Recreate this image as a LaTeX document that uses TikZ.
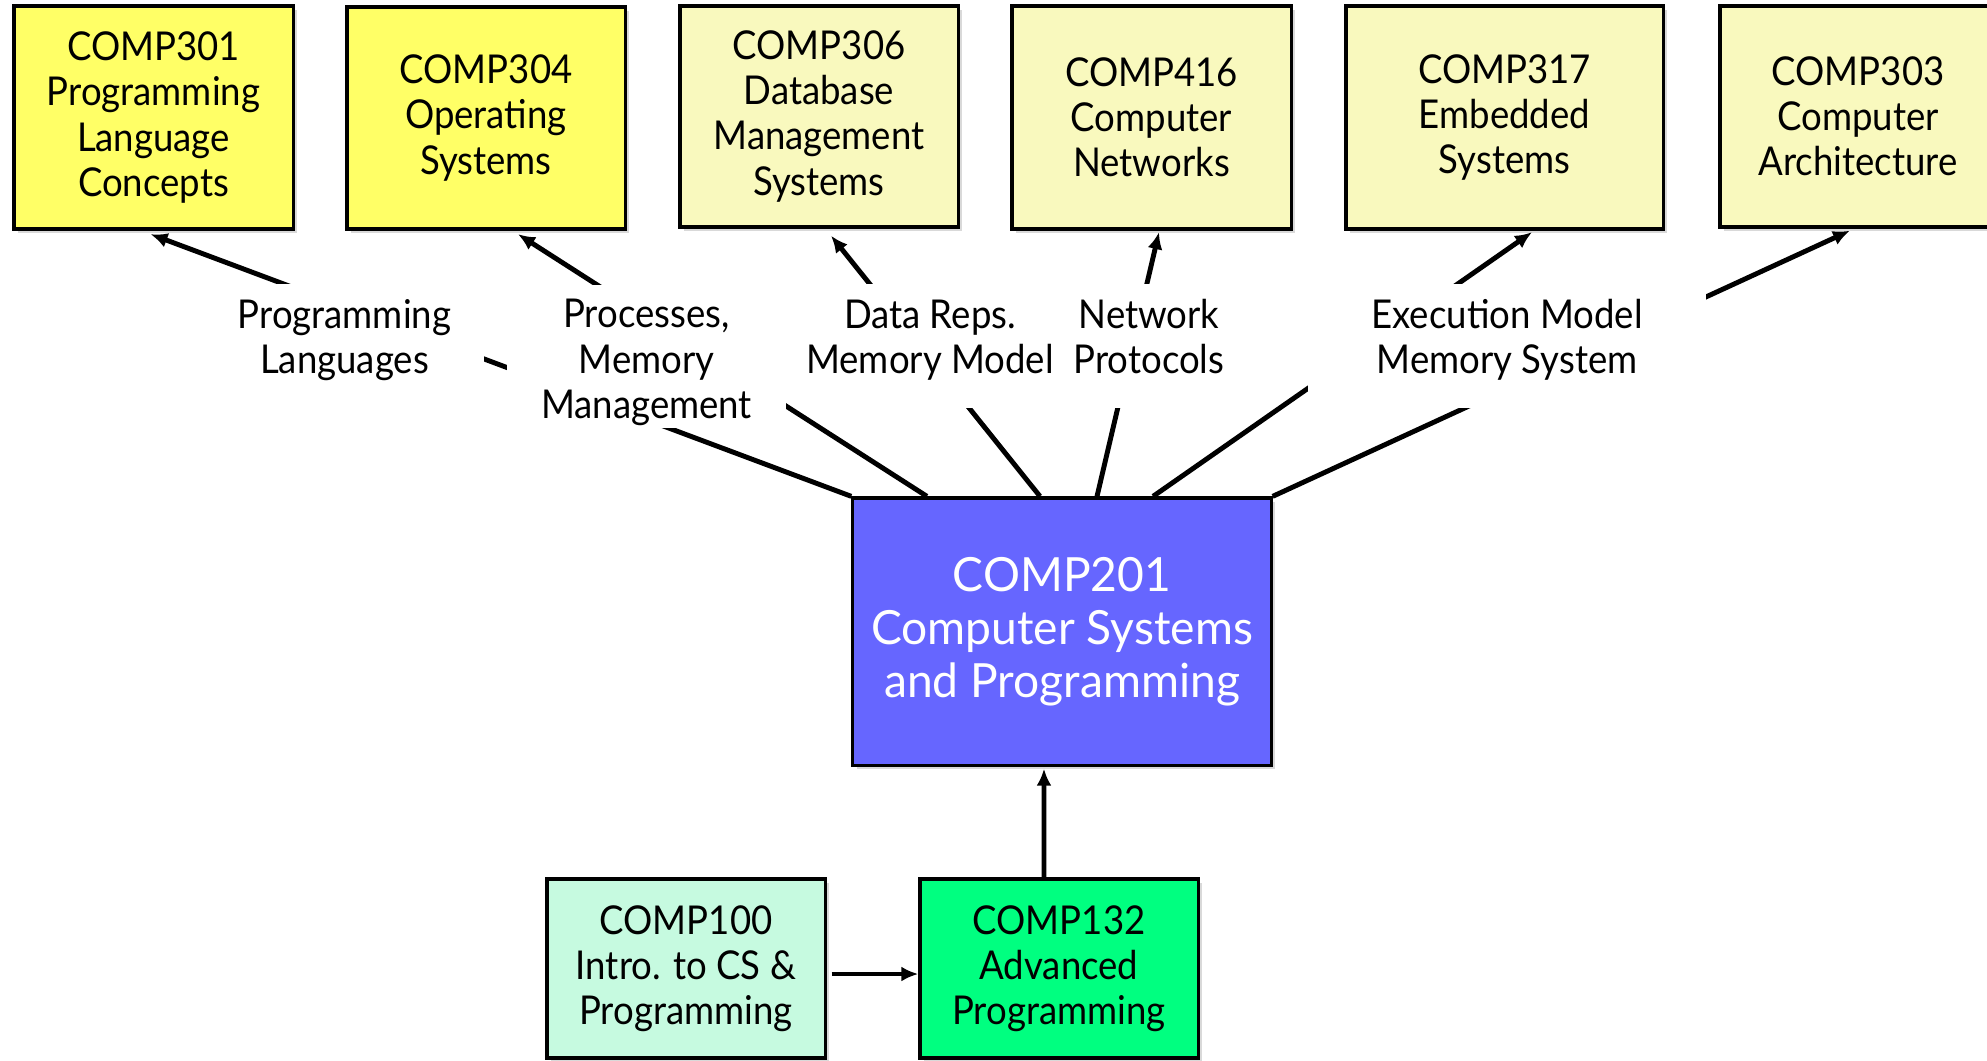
\documentclass[tikz,border=0pt]{standalone}
\usepackage{fontspec}
\setmainfont{Lato}[FakeStretch=0.92]
\newfontfamily\bigfont{Lato}[FakeStretch=0.98]
\usetikzlibrary{arrows.meta,shadows}
\definecolor{brightyellow}{HTML}{FFFF66}
\definecolor{paleyellow}{HTML}{F9F9BE}
\definecolor{cblue}{HTML}{6666FF}
\definecolor{mint}{HTML}{C6FAE0}
\definecolor{cgreen}{HTML}{00FF80}
\begin{document}
\begin{tikzpicture}[x=0.01cm,y=-0.01cm,
  course/.style={draw=black, line width=0.9pt, inner sep=0pt, align=center,
    font=\fontsize{11.3}{12.8}\selectfont,
    drop shadow={shadow xshift=0.04cm, shadow yshift=-0.04cm, opacity=0.15, fill=black}},
  link/.style={line width=1.4pt, -{Latex[length=0.17cm,width=0.15cm]}},
  topic/.style={fill=white, inner sep=0pt, font=\fontsize{11.3}{12.8}\selectfont}
]
\useasboundingbox (0,0) rectangle (1987,1060);

% top courses
\node[course, fill=brightyellow, minimum width=2.79cm, minimum height=2.23cm] (c301) at (153.5,117.5) {COMP301\\Programming\\Language\\Concepts};
\node[course, fill=brightyellow, minimum width=2.78cm, minimum height=2.22cm] (c304) at (486,118) {COMP304\\Operating\\Systems};
\node[course, fill=paleyellow, minimum width=2.78cm, minimum height=2.21cm] (c306) at (819,116.5) {COMP306\\Database\\Management\\Systems};
\node[course, fill=paleyellow, minimum width=2.79cm, minimum height=2.23cm] (c416) at (1151.5,117.5) {COMP416\\Computer\\Networks};
\node[course, fill=paleyellow, minimum width=3.17cm, minimum height=2.23cm] (c317) at (1504.5,117.5) {COMP317\\Embedded\\Systems};
\node[course, fill=paleyellow, minimum width=2.76cm, minimum height=2.21cm] (c303) at (1858,116.5) {COMP303\\Computer\\Architecture};

% central course
\node[course, fill=cblue, text=white, minimum width=4.18cm, minimum height=2.67cm,
  font=\bigfont\fontsize{13.4}{15}\selectfont] (c201) at (1062,631.5) {COMP201\\Computer Systems\\and Programming};

% bottom courses
\node[course, fill=mint, minimum width=2.78cm, minimum height=1.79cm] (c100) at (686,968.5) {COMP100\\Intro. to CS \&\\Programming};
\node[course, fill=cgreen, minimum width=2.78cm, minimum height=1.79cm] (c132) at (1059,968.5) {COMP132\\Advanced\\Programming};

% connectors
\draw[link] (c201.north west) -- ([xshift=-0.03cm,yshift=-0.035cm]c301.south);
\draw[link] ([xshift=-1.35cm]c201.north) -- ([xshift=0.32cm,yshift=-0.035cm]c304.south);
\draw[link] ([xshift=-0.22cm]c201.north) -- ([xshift=0.12cm,yshift=-0.07cm]c306.south);
\draw[link] ([xshift=0.35cm]c201.north) -- ([xshift=0.075cm,yshift=-0.015cm]c416.south);
\draw[link] ([xshift=0.91cm]c201.north) -- ([xshift=0.275cm,yshift=-0.015cm]c317.south);
\draw[link] (c201.north east) -- ([xshift=-0.08cm,yshift=-0.02cm]c303.south);
\draw[link] ([xshift=0.05cm,yshift=-0.055cm]c100.east) -- ([yshift=-0.055cm]c132.west);
\draw[link] ([xshift=-0.15cm]c132.north) -- ([xshift=-0.18cm,yshift=-0.02cm]c201.south);

% topic labels (white boxes masking the connectors)
\node[topic] (lPL) at (344.5,346) {\parbox[c][1.24cm][t]{2.79cm}{\centering\rule{0pt}{0.44cm}Programming\\Languages}};
\node[topic] (lPM) at (646.5,356.5) {\parbox[c][1.43cm][t]{2.79cm}{\centering\rule{0pt}{0.43cm}Processes,\\Memory\\Management}};
\node[topic] (lNP) at (1149,346) {\parbox[c][1.24cm][t]{1.80cm}{\centering\rule{0pt}{0.44cm}Network\\Protocols}};
\node[topic] (lDR) at (930,346) {\parbox[c][1.24cm][t]{2.60cm}{\centering\rule{0pt}{0.44cm}Data Reps.\\Memory Model}};
\node[topic] (lEM) at (1507,346) {\parbox[c][1.24cm][t]{3.98cm}{\centering\rule{0pt}{0.44cm}Execution Model\\Memory System}};
\end{tikzpicture}
\end{document}
